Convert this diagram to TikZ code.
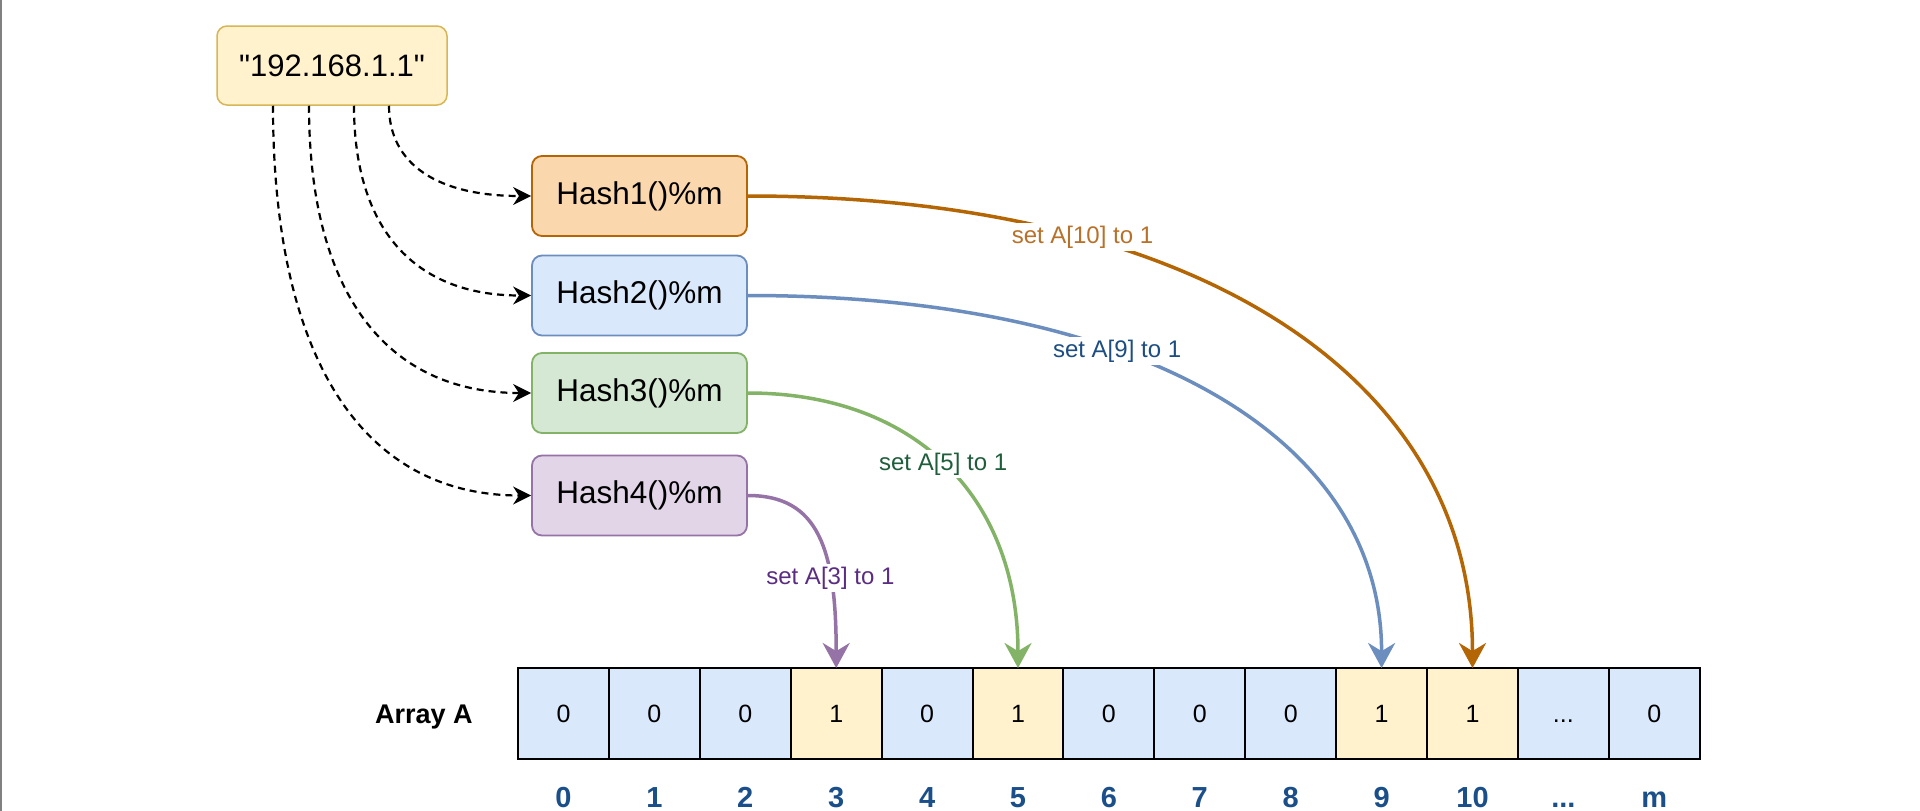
\documentclass[tikz,border=0pt]{standalone}
\usepackage{fontspec}
\setmainfont{Liberation Sans}
\usetikzlibrary{arrows.meta, calc, positioning}

\definecolor{ipFill}{HTML}{FFF2CC}
\definecolor{ipLine}{HTML}{D6B656}
\definecolor{orangeFill}{HTML}{FAD7AC}
\definecolor{orangeLine}{HTML}{B46504}
\definecolor{blueFill}{HTML}{DAE8FC}
\definecolor{blueLine}{HTML}{6C8EBF}
\definecolor{greenFill}{HTML}{D5E8D4}
\definecolor{greenLine}{HTML}{82B366}
\definecolor{purpleFill}{HTML}{E1D5E7}
\definecolor{purpleLine}{HTML}{9673A6}
\definecolor{orangeText}{HTML}{B9712A}
\definecolor{blueText}{HTML}{1D4E82}
\definecolor{greenText}{HTML}{1F5E3B}
\definecolor{purpleText}{HTML}{5A2D82}
\definecolor{idxBlue}{HTML}{1B4F8A}

\begin{document}
\begin{tikzpicture}[x=1pt, y=-1pt,
		ip_box/.style={draw=ipLine, fill=ipFill, rounded corners=10pt, line width=1.5pt, minimum width=230pt, minimum height=79pt, font=\fontsize{31}{36}\selectfont},
		hash_box/.style={rounded corners=10pt, line width=1.8pt, minimum width=215pt, minimum height=80pt, font=\fontsize{31.5}{36}\selectfont},
		cell/.style={draw=black, line width=2pt, minimum width=90.9pt, minimum height=91pt, inner sep=0pt, outer sep=0pt, text height=18pt, text depth=0pt, font=\fontsize{25}{30}\selectfont},
		idx/.style={text height=21pt, text depth=0pt, font=\fontsize{29}{34}\selectfont\bfseries, text=idxBlue},
		feed_arrow/.style={-{Stealth[length=18pt, width=18pt]}, dash pattern=on 7pt off 5pt, line width=2.2pt},
		set_arrow/.style={-{Stealth[length=25pt, width=27pt]}, line width=3.5pt},
		set_label/.style={fill=white, inner sep=3pt, font=\fontsize{24}{29}\selectfont}
		]
		
		\useasboundingbox (0,0) rectangle (1920,811);
		\fill[white] (0,0) rectangle (1920,811);
		\draw[gray, line width=1.5pt] (0.75,0) -- (0.75,811);
		
		% Input: IP address
		\node[ip_box] (ip) at (332, 65.5) {\textquotedbl 192.168.1.1\textquotedbl};
		\coordinate (ip_out1) at ([xshift=57pt]ip.south);
		\coordinate (ip_out2) at ([xshift=22pt]ip.south);
		\coordinate (ip_out3) at ([xshift=-23pt]ip.south);
		\coordinate (ip_out4) at ([xshift=-59pt]ip.south);
		
		% Hash functions
		\node[hash_box, draw=orangeLine, fill=orangeFill] (hash1) at (639.5, 196) {Hash1()\%m};
		\node[hash_box, draw=blueLine, fill=blueFill] (hash2) at (639.5, 295.5) {Hash2()\%m};
		\node[hash_box, draw=greenLine, fill=greenFill] (hash3) at (639.5, 393) {Hash3()\%m};
		\node[hash_box, draw=purpleLine, fill=purpleFill] (hash4) at (639.5, 495.5) {Hash4()\%m};
		
		\draw[feed_arrow] (ip_out1) .. controls +(0,59) and +(-93,0) .. (hash1.west);
		\draw[feed_arrow] (ip_out2) .. controls +(0,124) and +(-116,0) .. (hash2.west);
		\draw[feed_arrow] (ip_out3) .. controls +(0,187) and +(-145,0) .. (hash3.west);
		\draw[feed_arrow] (ip_out4) .. controls +(0,254) and +(-168,0) .. (hash4.west);
		
		% Bit array
		\node[font=\fontsize{27}{32}\selectfont\bfseries] (arr_name) at (424, 717) {Array A};
		\foreach \v/\f [count=\i from 0] in {0/blueFill, 0/blueFill, 0/blueFill, 1/ipFill, 0/blueFill, 1/ipFill, 0/blueFill, 0/blueFill, 0/blueFill, 1/ipFill, 1/ipFill} {
			\node[cell, fill=\f] (a\i) at ({563.5+90.9*\i}, 713.5) {\v};
			\node[idx] (i\i) at ({563.5+90.9*\i}, 797) {\i};
		}
		\node[cell, fill=blueFill] (a11) at ({563.5+90.9*11}, 713.5) {...};
		\node[cell, fill=blueFill] (a12) at ({563.5+90.9*12}, 713.5) {0};
		\node[idx] (i11) at ({563.5+90.9*11}, 797) {...};
		\node[idx] (i12) at ({563.5+90.9*12}, 797) {m};
		
		% Set bits
		\draw[set_arrow, orangeLine] (hash1.east) .. controls +(450,0) and +(0,-290) .. (a10.north)
			node[set_label, text=orangeText, pos=0.28] (lbl1) {set A[10] to 1};
		\draw[set_arrow, blueLine] (hash2.east) .. controls +(393,0) and +(0,-231) .. (a9.north)
			node[set_label, text=blueText, pos=0.37] (lbl2) {set A[9] to 1};
		\draw[set_arrow, greenLine] (hash3.east) .. controls +(168,0) and +(0,-170) .. (a5.north)
			node[set_label, text=greenText, pos=0.49] (lbl3) {set A[5] to 1};
		\draw[set_arrow, purpleLine] (hash4.east) .. controls +(70,0) and +(0,-120) .. (a3.north)
			node[set_label, text=purpleText, pos=0.7] (lbl4) {set A[3] to 1};
		
	\end{tikzpicture}
\end{document}
